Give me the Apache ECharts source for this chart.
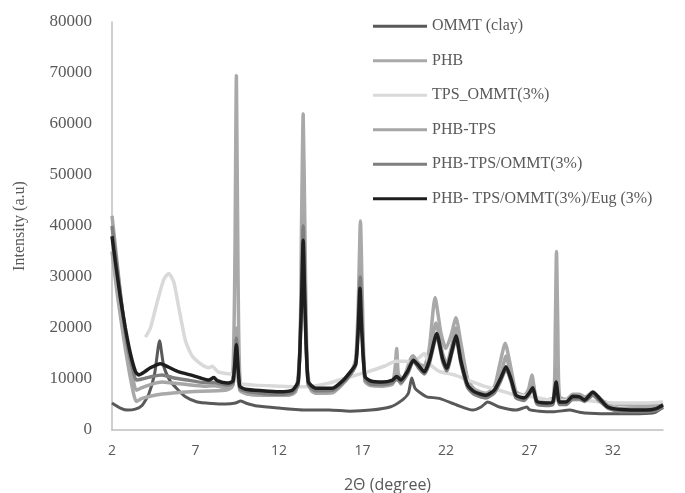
<!DOCTYPE html>
<html>
<head>
<meta charset="utf-8">
<script src="https://cdn.jsdelivr.net/npm/echarts@6/dist/echarts.min.js"></script>
<style>
    html, body { margin: 0; padding: 0; background: #fff; }
    #main { width: 685px; height: 493px; }
</style>
</head>
<body>
<div id="main"></div>
<script>
// 图例名称
let names = ["OMMT (clay)", "PHB", "TPS_OMMT(3%)", "PHB-TPS", "PHB-TPS/OMMT(3%)", "PHB- TPS/OMMT(3%)/Eug (3%)"];
let colors = ['#595959', '#a9a9a9', '#d9d9d9', '#a6a6a6', '#7f7f7f', '#1e1e1e'];

// x 轴刻度
let xTicks = [2, 7, 12, 17, 22, 27, 32];

// [2θ, 强度]
let ommtClay = [[2, 5300], [2.5, 4300], [2.95, 3900], [3.4, 4100], [3.8, 4800], [4.2, 7000], [4.55, 11000], [4.85, 17500], [5.1, 12500], [5.5, 9500], [5.8, 8400], [6.4, 6500], [7.1, 5500], [8.0, 5200], [8.8, 5100], [9.4, 5300], [9.7, 5700], [10.0, 5300], [10.7, 4700], [12.0, 4300], [13.7, 3900], [15.0, 3900], [16.25, 3700], [17.5, 3900], [18.65, 4500], [19.4, 5900], [19.75, 7200], [19.95, 10200], [20.15, 8200], [20.5, 7200], [20.85, 6500], [21.6, 6200], [22.65, 4900], [23.6, 3900], [24.1, 4500], [24.5, 5500], [25.2, 4500], [26.2, 3900], [26.85, 4500], [27.0, 4000], [27.6, 3700], [28.5, 3600], [29.4, 3900], [30.0, 3500], [30.6, 3300], [32.0, 3200], [33.6, 3200], [34.5, 3400], [35.0, 4500]];

let phb = [[2, 35000], [2.3, 27000], [2.7, 18000], [3.0, 12000], [3.3, 7000], [3.45, 5600], [3.8, 6200], [4.7, 6900], [5.5, 7200], [6.7, 7500], [8.8, 7800], [9.2, 8500], [9.35, 30000], [9.45, 69500], [9.55, 30000], [9.7, 8000], [10.2, 7000], [12.5, 6800], [13.0, 7500], [13.25, 15000], [13.35, 40000], [13.45, 62000], [13.55, 40000], [13.7, 12000], [14.0, 7500], [15.2, 7500], [15.8, 9000], [16.3, 11000], [16.6, 14000], [16.75, 25000], [16.88, 41000], [17.0, 25000], [17.2, 9500], [18.0, 9000], [18.8, 9500], [18.95, 12000], [19.05, 16000], [19.15, 11000], [19.4, 10000], [20.0, 14500], [20.4, 13000], [20.7, 12500], [21.0, 16000], [21.35, 26000], [21.7, 19000], [22.0, 16000], [22.3, 18500], [22.6, 22000], [22.9, 17000], [23.3, 10000], [23.7, 8000], [24.4, 7200], [24.9, 8500], [25.2, 12500], [25.55, 17000], [25.9, 12000], [26.2, 7500], [26.7, 6800], [26.95, 8000], [27.15, 10800], [27.4, 6500], [28.0, 5800], [28.45, 6500], [28.55, 20000], [28.62, 35000], [28.7, 20000], [28.8, 6500], [29.2, 6000], [29.6, 7000], [30.0, 7000], [30.3, 6500], [30.8, 7000], [31.5, 5500], [32.5, 5000], [34.5, 4800], [35, 5300]];

let tpsOmmt = [[4.0, 18200], [4.3, 20000], [4.7, 25000], [5.1, 29500], [5.4, 30700], [5.7, 29000], [6.0, 24000], [6.4, 17500], [6.8, 14500], [7.3, 13000], [7.8, 12200], [8.0, 12500], [8.35, 11400], [9.0, 11000], [9.3, 10800], [9.6, 9200], [10.5, 8800], [12.0, 8600], [13.0, 8500], [14.0, 8600], [15.0, 9200], [16.0, 10200], [17.3, 11400], [18.3, 12500], [19.0, 13500], [19.6, 13500], [20.0, 13300], [20.4, 14200], [20.7, 15000], [21.0, 13000], [21.6, 11500], [22.5, 10800], [23.3, 9800], [24.5, 8400], [25.2, 7800], [26.0, 7000], [27.2, 6500], [28.0, 6000], [29.0, 5800], [30.0, 5900], [31.0, 5600], [32.0, 5300], [34.0, 5300], [35.0, 5500]];

let phbTps = [[2, 42000], [2.3, 33000], [2.6, 24000], [2.9, 16500], [3.2, 11000], [3.45, 7800], [3.8, 8300], [4.4, 9000], [5.0, 9400], [5.6, 9200], [6.5, 8900], [7.5, 8600], [8.1, 8700], [8.9, 8300], [9.25, 8800], [9.45, 20000], [9.65, 7800], [10.2, 7000], [12.0, 6800], [12.8, 7000], [13.15, 9000], [13.35, 28000], [13.45, 42000], [13.55, 28000], [13.75, 9000], [14.2, 7200], [15.2, 7300], [15.8, 9000], [16.3, 11000], [16.6, 13500], [16.75, 22000], [16.87, 32000], [16.97, 22000], [17.15, 9500], [17.5, 8700], [18.2, 8600], [18.8, 9000], [19.05, 11000], [19.3, 9000], [19.7, 11500], [20.05, 14500], [20.4, 12500], [20.7, 11500], [21.0, 14000], [21.4, 21000], [21.8, 15000], [22.05, 13000], [22.35, 16500], [22.6, 20000], [22.9, 14000], [23.3, 8500], [23.7, 7000], [24.4, 6300], [24.9, 7800], [25.3, 11000], [25.6, 14500], [25.9, 10500], [26.2, 6500], [26.7, 6000], [27.2, 9000], [27.45, 5300], [28.0, 5000], [28.4, 5200], [28.6, 12000], [28.8, 5200], [29.2, 5300], [29.6, 6800], [30.0, 6800], [30.3, 6300], [30.8, 7500], [31.2, 6300], [31.7, 4800], [32.5, 4200], [34.0, 4200], [34.6, 4400], [35.0, 5000]];

let phbTpsOmmt = [[2, 40000], [2.3, 32000], [2.6, 24000], [2.9, 17000], [3.2, 12500], [3.45, 9800], [3.8, 10000], [4.4, 10500], [5.0, 10800], [5.6, 10300], [6.5, 9800], [7.5, 9300], [8.1, 9300], [8.9, 8800], [9.25, 9200], [9.45, 18000], [9.65, 8200], [10.2, 7500], [12.0, 7000], [12.8, 7300], [13.15, 9000], [13.35, 26000], [13.45, 40000], [13.55, 26000], [13.75, 9000], [14.2, 7700], [15.2, 7800], [15.8, 9200], [16.3, 11000], [16.6, 12800], [16.75, 21000], [16.87, 30000], [16.97, 21000], [17.15, 10000], [17.5, 9000], [18.2, 8900], [18.8, 9300], [19.05, 10000], [19.3, 9300], [19.7, 11000], [20.05, 13500], [20.4, 12000], [20.7, 11000], [21.0, 13000], [21.45, 18500], [21.8, 13500], [22.05, 11600], [22.35, 15000], [22.6, 18000], [22.9, 13000], [23.3, 8300], [23.7, 7000], [24.4, 6300], [24.9, 7300], [25.3, 9800], [25.6, 12000], [25.9, 9500], [26.2, 6300], [26.7, 5800], [27.2, 8000], [27.45, 5100], [28.0, 4800], [28.4, 5000], [28.6, 9000], [28.8, 5000], [29.2, 5000], [29.6, 6100], [30.0, 6100], [30.3, 5600], [30.8, 6800], [31.2, 5700], [31.7, 4300], [32.5, 3600], [34.0, 3600], [34.6, 3800], [35.0, 4400]];

let phbTpsOmmtEug = [[2, 38000], [2.2, 33000], [2.5, 26000], [2.8, 20000], [3.1, 15000], [3.4, 11500], [3.6, 10800], [3.9, 11300], [4.3, 12200], [4.9, 13000], [5.4, 12300], [6.0, 11400], [6.7, 10800], [7.3, 10200], [7.8, 9800], [8.1, 10300], [8.3, 9700], [8.9, 9200], [9.25, 9600], [9.45, 16700], [9.65, 8600], [10.0, 8000], [11.0, 7700], [12.0, 7500], [12.8, 7800], [13.15, 9500], [13.35, 25000], [13.45, 37200], [13.55, 25000], [13.75, 9500], [14.2, 8200], [15.2, 8200], [15.8, 9600], [16.3, 11500], [16.6, 13000], [16.75, 20000], [16.85, 27800], [16.95, 20000], [17.15, 10500], [17.5, 9600], [18.2, 9400], [18.8, 9800], [19.05, 10500], [19.3, 9800], [19.7, 11500], [20.05, 13700], [20.4, 12500], [20.7, 11400], [21.0, 13500], [21.45, 18900], [21.8, 14000], [22.05, 12100], [22.35, 15500], [22.6, 18500], [22.9, 13500], [23.3, 8800], [23.7, 7500], [24.4, 6800], [24.9, 7800], [25.3, 10300], [25.6, 12400], [25.9, 10000], [26.2, 6800], [26.7, 6300], [27.0, 7300], [27.2, 8300], [27.45, 5600], [28.0, 5300], [28.4, 5500], [28.6, 9400], [28.8, 5500], [29.2, 5500], [29.6, 6600], [30.0, 6500], [30.3, 5900], [30.8, 7400], [31.2, 6200], [31.7, 4500], [32.5, 4000], [34.0, 3900], [34.6, 4200], [35.0, 4900]];

let seriesData = [ommtClay, phb, tpsOmmt, phbTps, phbTpsOmmt, phbTpsOmmtEug];
let widths = [3, 3.5, 3.5, 3.5, 3.5, 3.5];

let mychart = echarts.init(document.getElementById("main"));
let options = {
    animation: false,
    color: colors,
    grid: {
        left: 112,
        right: 22,
        top: 22,
        bottom: 63,
        outerBoundsMode: "none"
    },
    legend: {
        orient: "vertical",
        left: 368,
        top: 12,
        icon: "rect",
        itemWidth: 54,
        itemHeight: 3,
        itemGap: 16,
        data: names,
        textStyle: {
            fontFamily: "Liberation Serif",
            fontSize: 16,
            color: "#595959",
            lineHeight: 18.5
        }
    },
    xAxis: {
        type: "value",
        min: 2,
        max: 35,
        interval: 5,
        name: "2Θ (degree)",
        nameLocation: "middle",
        nameGap: 47,
        nameTextStyle: {
            fontFamily: "Open Sans",
            fontSize: 16,
            color: "#595959"
        },
        axisLine: { show: true, lineStyle: { color: "#bfbfbf", width: 1.5 } },
        axisTick: { show: false },
        splitLine: { show: false },
        axisLabel: {
            margin: 14,
            fontFamily: "Open Sans",
            fontSize: 14,
            color: "#595959",
            showMaxLabel: false,
            formatter: function(v) {
                return xTicks.indexOf(v) >= 0 ? v : "";
            }
        }
    },
    yAxis: {
        type: "value",
        min: 0,
        max: 80000,
        interval: 10000,
        name: "Intensity (a.u)",
        nameLocation: "middle",
        nameGap: 84,
        nameTextStyle: {
            fontFamily: "Liberation Serif",
            fontSize: 16,
            color: "#595959"
        },
        axisLine: { show: true, lineStyle: { color: "#bfbfbf", width: 1.5 } },
        axisTick: { show: false },
        splitLine: { show: false },
        axisLabel: {
            margin: 20,
            fontFamily: "Liberation Serif",
            fontSize: 17,
            color: "#595959",
            formatter: function(v) {
                return String(v);
            }
        }
    },
    series: names.map((n, i) => ({
        name: n,
        type: "line",
        data: seriesData[i],
        showSymbol: false,
        symbol: "none",
        smooth: 0.2,
        lineStyle: { width: widths[i], color: colors[i] },
        itemStyle: { color: colors[i] }
    }))
};
mychart.setOption(options);
</script>
</body>
</html>
